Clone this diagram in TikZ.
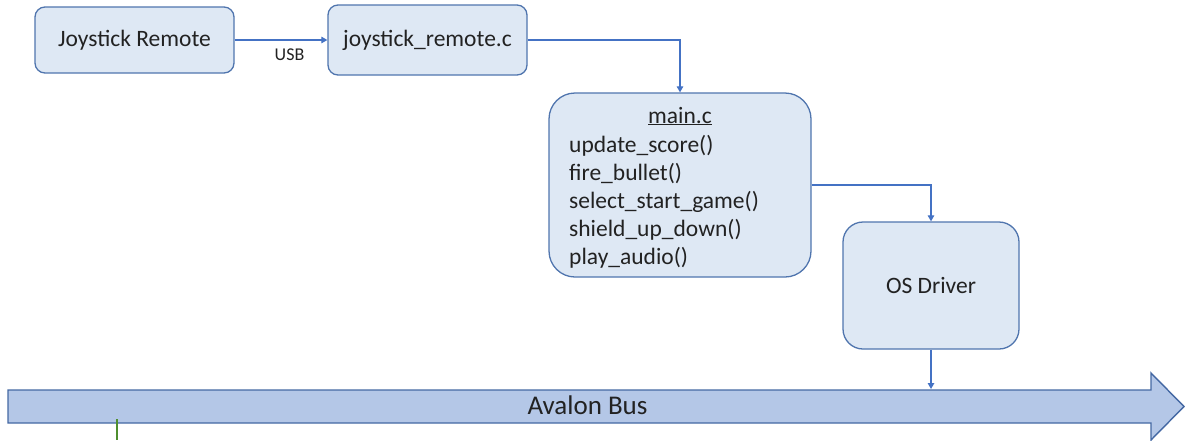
\documentclass[tikz,border=0pt]{standalone}
\usepackage{fontspec}
\setmainfont{Carlito}
\usetikzlibrary{arrows.meta}
\definecolor{boxfill}{HTML}{DEE8F4}
\definecolor{boxline}{HTML}{5075AE}
\definecolor{wire}{HTML}{4472C4}
\definecolor{busfill}{HTML}{B4C7E7}
\definecolor{busline}{HTML}{4468A3}
\definecolor{ink}{HTML}{222222}
\definecolor{tick}{HTML}{4F8F2F}
\tikzset{
  block/.style={draw=boxline, fill=boxfill, line width=1.3pt, rectangle,
    inner sep=0pt, text=ink, font=\fontsize{23.5}{28.3}\selectfont},
  wirearrow/.style={draw=wire, line width=1.2pt,
    -{Triangle[length=6pt,width=6.5pt]}},
  fnline/.style={text=ink, inner sep=0pt, font=\fontsize{23.5}{28.3}\selectfont},
}
\begin{document}
\begin{tikzpicture}[x=1pt, y=-1pt]
\useasboundingbox (0,0) rectangle (1185,440);

% software blocks
\node[block, rounded corners=10pt, minimum width=199pt, minimum height=66pt]
  (jr) at (134.5,40) {Joystick Remote};
\node[block, rounded corners=10pt, minimum width=199pt, minimum height=70pt]
  (jrc) at (427.5,40) {joystick\_remote.c};
\node[block, rounded corners=26pt, minimum width=262pt, minimum height=184pt]
  (main) at (680,185) {};
\node[block, rounded corners=20pt, minimum width=176pt, minimum height=127pt]
  (os) at (931,285.5) {OS Driver};

% contents of main.c
\node[fnline, anchor=base] (mainTitle) at (680,123) {\underline{main.c}};
\foreach \t [count=\i] in {update\_score(), fire\_bullet(), select\_start\_game(),
    shield\_up\_down(), play\_audio()}
  \node[fnline, anchor=base west] (fn\i) at ({569},{152+28.2*(\i-1)}) {\t};

% Avalon bus as a wide block arrow
\path[draw=busline, fill=busfill, line width=1.4pt, line join=miter]
  (8,390) -- (1151,390) -- (1151,373) -- (1184,406.5) -- (1151,440)
  -- (1151,423) -- (8,423) -- cycle;
\node[text=ink, font=\fontsize{27}{32}\selectfont, anchor=base] (busLabel) at (587.5,414.5) {Avalon Bus};
\coordinate (busTop) at (931,389);

% short green stub below the bus
\coordinate (stubTop) at (117,419);
\coordinate (stubBot) at (117,440);
\draw[tick, line width=1.3pt] (stubTop) -- (stubBot);

% connectors
\draw[wirearrow] (jr.east) -- (jrc.west);
\node[text=ink, font=\fontsize{18}{21}\selectfont] (usb) at (289.5,54.5) {USB};
\draw[wirearrow] (jrc.east) -| (main.north);
\draw[wirearrow] (main.east) -| (os.north);
\draw[wirearrow] (os.south) -- (busTop);
\end{tikzpicture}
\end{document}
